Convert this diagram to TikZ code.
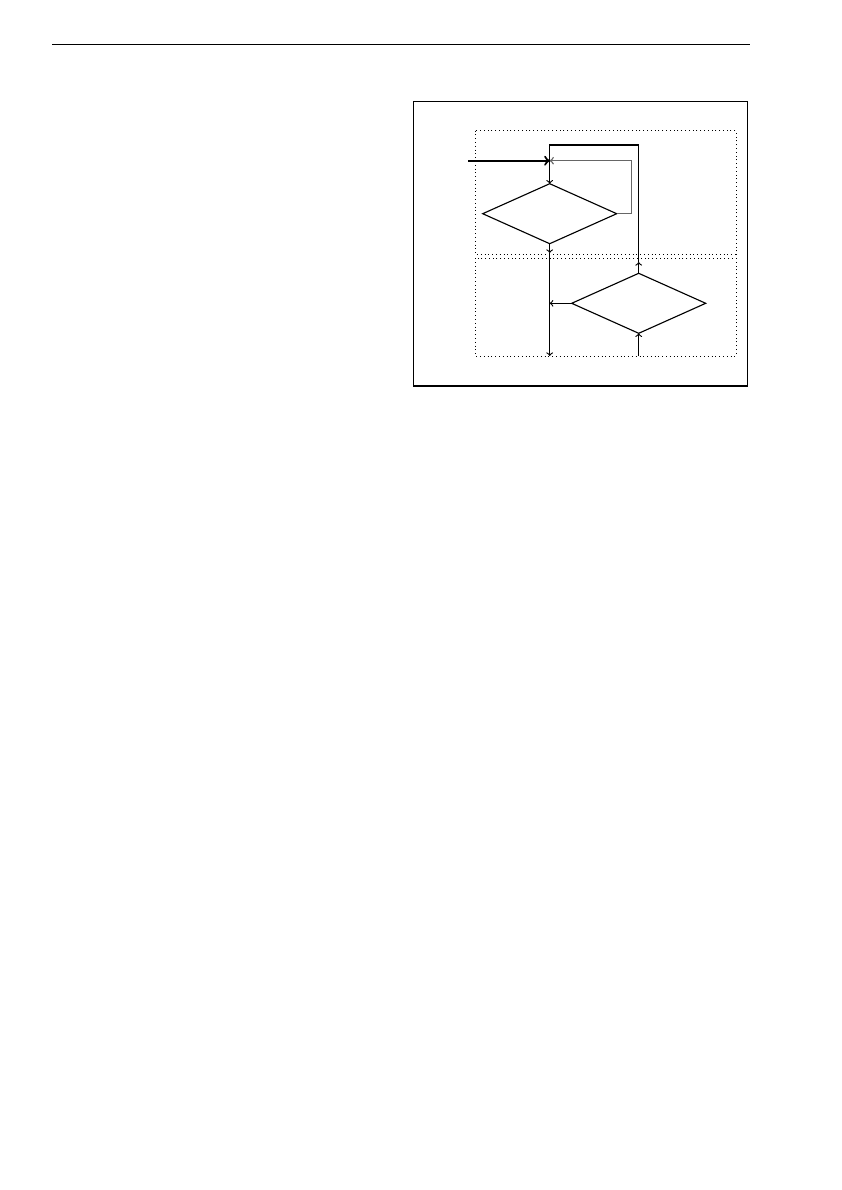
\documentclass[tikz,border=0pt]{standalone}
\usepackage{tikz}
\usetikzlibrary{shapes.geometric}
\def\decnode{\node[diamond,draw=black,line width=0.8pt,inner sep=0pt,outer sep=0pt,minimum width=33.5mm,minimum height=15mm]}
\def\flowline{\draw[line width=0.8pt]}
\def\zonebox{\draw[dotted,line width=0.7pt]}

\begin{document}
\begin{tikzpicture}[x=0.25mm,y=-0.25mm,>=to]
\useasboundingbox (0,0) rectangle (842,1190);
% page rule and frame
\draw[line width=1.1pt] (52,44.3) -- (750,44.3);
\draw[line width=0.8pt] (413.3,101.7) rectangle (747.7,386);
\zonebox (475.3,130.7) rectangle (736,254.3);
\zonebox (475.3,258.3) rectangle (736,356);
% decisions
\decnode (upper) at (549.7,213.7) {};
\decnode (lower) at (638.7,303.3) {};
\coordinate (entry) at (468.3,160.7);
\coordinate (join) at (549.7,160.7);
\coordinate (topleft) at (549.7,145);
\coordinate (riseA) at (638.7,262);
\coordinate (dropA) at (549.7,253);
\coordinate (exit) at (549.7,356);
\coordinate (feed) at (638.7,356);
% connectors
\draw[->,line width=1.5pt] (entry) -- (join);
\draw[->,line width=1pt,color=black!60] (upper.east) -- ++(15,0) |- (join);
\flowline[->] (lower.north) -- (riseA);
\flowline[->] (riseA) |- (topleft) -- (upper.north);
\flowline[->] (upper.south) -- (dropA);
\flowline[->] (dropA) -- (exit);
\flowline[->] (lower.west) -- (lower.west -| exit);
\flowline[->] (feed) -- (lower.south);
\end{tikzpicture}
\end{document}
